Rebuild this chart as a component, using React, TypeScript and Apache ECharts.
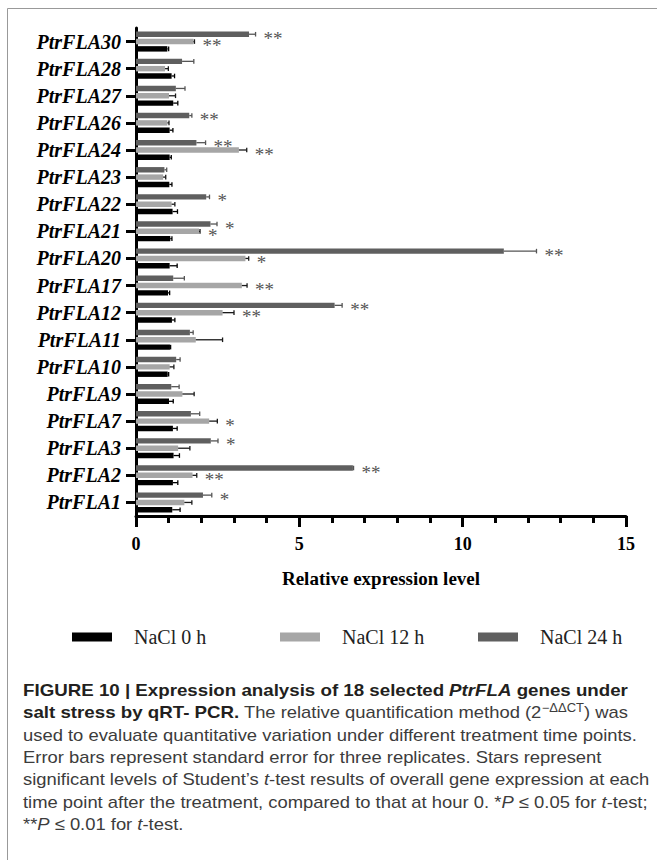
import React, { useEffect, useRef } from 'react';
import * as echarts from 'echarts';

// Categories, bottom to top
const categories = [
  'PtrFLA1', 'PtrFLA2', 'PtrFLA3', 'PtrFLA7', 'PtrFLA9', 'PtrFLA10', 'PtrFLA11', 'PtrFLA12', 'PtrFLA17',
  'PtrFLA20', 'PtrFLA21', 'PtrFLA22', 'PtrFLA23', 'PtrFLA24', 'PtrFLA26', 'PtrFLA27', 'PtrFLA28', 'PtrFLA30',
];

const val0h = [1.11, 1.13, 1.15, 1.13, 1.01, 0.97, 1.04, 1.10, 0.98, 1.03, 1.05, 1.12, 1.02, 1.03, 1.03, 1.14, 1.09, 0.96];
const err0h = [0.24, 0.15, 0.18, 0.13, 0.13, 0.03, 0.02, 0.09, 0.05, 0.23, 0.05, 0.15, 0.08, 0.05, 0.10, 0.14, 0.09, 0.04];

const val12h = [1.48, 1.73, 1.29, 2.24, 1.42, 1.03, 1.83, 2.65, 3.24, 3.35, 1.93, 1.09, 0.83, 3.15, 0.96, 1.01, 0.89, 1.76];
const err12h = [0.23, 0.13, 0.36, 0.25, 0.36, 0.13, 0.82, 0.35, 0.16, 0.10, 0.03, 0.10, 0.08, 0.24, 0.05, 0.20, 0.10, 0.03];
const stars12h = ['', '**', '', '*', '', '', '', '**', '**', '*', '*', '', '', '**', '', '', '', '**'];

const val24h = [2.05, 6.64, 2.29, 1.68, 1.08, 1.23, 1.65, 6.08, 1.14, 11.26, 2.28, 2.15, 0.87, 1.85, 1.63, 1.22, 1.41, 3.46];
const err24h = [0.27, 0.02, 0.22, 0.27, 0.24, 0.12, 0.10, 0.23, 0.34, 1.00, 0.20, 0.10, 0.07, 0.28, 0.08, 0.28, 0.36, 0.20];
const stars24h = ['*', '**', '*', '', '', '', '', '**', '', '**', '*', '*', '', '**', '**', '', '', '**'];

const stars0h = categories.map(() => '');

const seriesNames = ['NaCl 0 h', 'NaCl 12 h', 'NaCl 24 h'];
const xMin = 0;
const xMax = 15;
const xInterval = 5;
const axisTitle = 'Relative expression level';

const captionLines = [
  '{b|FIGURE 10 | Expression analysis of 18 selected }{bi|PtrFLA}{b| genes under}',
  '{b|salt stress by qRT- PCR.}{r| The relative quantification method (2}{sup|\u2212\u0394\u0394CT}{r|) was}',
  '{r|used to evaluate quantitative variation under different treatment time points.}',
  '{r|Error bars represent standard error for three replicates. Stars represent}',
  '{r|significant levels of Student\u2019s }{i|t}{r|-test results of overall gene expression at each}',
  '{r|time point after the treatment, compared to that at hour 0. *}{i|P}{r| \u2264 0.05 for }{i|t}{r|-test;}',
  '{r|**}{i|P}{r| \u2264 0.01 for }{i|t}{r|-test.}',
];
const captionRef = 'used to evaluate quantitative variation under different treatment time points.';

const SERIF = '"Liberation Serif", "Times New Roman", serif';
const SANS = '"Liberation Sans", Arial, sans-serif';

export default function App() {
  const ref = useRef<HTMLDivElement>(null);

  useEffect(() => {
    document.body.style.margin = '0';
    const chart = echarts.init(ref.current!, null, { renderer: 'svg' });

    const defs = [
      { name: seriesNames[2], vals: val24h, errs: err24h, stars: stars24h, color: '#5f5f5f', errColor: '#555555', slot: -1 },
      { name: seriesNames[1], vals: val12h, errs: err12h, stars: stars12h, color: '#a6a6a6', errColor: '#1a1a1a', slot: 0 },
      { name: seriesNames[0], vals: val0h, errs: err0h, stars: stars0h, color: '#000000', errColor: '#000000', slot: 1 },
    ];

    const barSeries = defs.map((d) => ({
      type: 'bar',
      name: d.name,
      data: d.vals,
      barWidth: '20%',
      barGap: '35%',
      itemStyle: { color: d.color },
      z: 2,
    }));

    const errSeries = defs.map((d) => ({
      type: 'custom',
      name: d.name + ' err',
      data: categories.map((c, i) => [i, d.vals[i], d.errs[i]]),
      encode: { x: 1, y: 0 },
      z: 3,
      silent: true,
      renderItem: (params: any, api: any) => {
        const i = api.value(0);
        const v = api.value(1);
        const e = api.value(2);
        const band = api.size([0, 1])[1];
        const p0 = api.coord([v, i]);
        const p1 = api.coord([v + e, i]);
        const yc = p0[1] + d.slot * 0.27 * band;
        const children: any[] = [
          { type: 'line', shape: { x1: p0[0], y1: yc, x2: p1[0], y2: yc }, style: { stroke: d.errColor, lineWidth: 1.3 } },
          { type: 'line', shape: { x1: p1[0], y1: yc - 2.3, x2: p1[0], y2: yc + 2.3 }, style: { stroke: d.errColor, lineWidth: 1.3 } },
        ];
        const s = d.stars[params.dataIndex];
        if (s) {
          children.push({
            type: 'text',
            x: p1[0] + 8,
            y: yc + 4,
            style: { text: s, fill: '#555555', fontSize: 19, fontFamily: SERIF, align: 'left', verticalAlign: 'middle' },
          });
        }
        return { type: 'group', children };
      },
    }));

    // caption scale (condensed look)
    const capSize = 17;
    const boldSize = 17.3;
    let sx = 0.88;
    try {
      const ctx = document.createElement('canvas').getContext('2d')!;
      ctx.font = `${capSize}px "Liberation Sans"`;
      const w = ctx.measureText(captionRef).width;
      if (w > 0) sx = 614 / w;
    } catch (e) {}

    const rich = {
      b: { fontWeight: 'bold', fontSize: boldSize, fontFamily: SANS, fill: '#231f20', lineHeight: 20 },
      bi: { fontWeight: 'bold', fontStyle: 'italic', fontSize: boldSize, fontFamily: SANS, fill: '#231f20', lineHeight: 20 },
      r: { fontSize: capSize, fontFamily: SANS, fill: '#3c3c3c', lineHeight: 20 },
      i: { fontStyle: 'italic', fontSize: capSize, fontFamily: SANS, fill: '#3c3c3c', lineHeight: 20 },
      sup: { fontSize: 12, fontFamily: SANS, fill: '#3c3c3c', lineHeight: 20, verticalAlign: 'top' },
    };

    const captionEls = captionLines.map((t, k) => ({
      type: 'text',
      x: 23,
      y: 690 + k * 22.4,
      scaleX: sx,
      silent: true,
      style: { text: t, rich, x: 0, y: 0, align: 'left', verticalAlign: 'middle', fontSize: capSize, fontFamily: SANS, fill: '#3c3c3c' },
    }));

    const legendLefts = [72, 280, 478];
    const legendColors = ['#000000', '#a6a6a6', '#5f5f5f'];
    const legends = seriesNames.map((n, k) => ({
      show: true,
      data: [{ name: n, itemStyle: { color: legendColors[k] } }],
      left: legendLefts[k],
      top: 627,
      padding: 0,
      icon: 'rect',
      itemWidth: 40,
      itemHeight: 9,
      selectedMode: false,
      textStyle: { fontFamily: SERIF, fontSize: 20, color: '#222222', padding: [0, 0, 0, 17] },
    }));

    const option: any = {
      animation: false,
      backgroundColor: '#ffffff',
      grid: { left: 136, right: 31, top: 28, bottom: 344, containLabel: false },
      legend: legends,
      xAxis: {
        type: 'value',
        min: xMin,
        max: xMax,
        interval: xInterval,
        name: axisTitle,
        nameLocation: 'middle',
        nameGap: 53,
        nameTextStyle: { fontFamily: SERIF, fontWeight: 'bold', fontSize: 19, color: '#000' },
        axisLine: { show: true, lineStyle: { color: '#000', width: 3 } },
        axisTick: { show: true, length: 11, lineStyle: { color: '#000', width: 3 } },
        minorTick: { show: true, splitNumber: 5, length: 7, lineStyle: { color: '#000', width: 3 } },
        splitLine: { show: false },
        minorSplitLine: { show: false },
        axisLabel: { fontFamily: SERIF, fontWeight: 'bold', fontSize: 18, color: '#000', margin: 19 },
      },
      yAxis: {
        type: 'category',
        data: categories,
        axisLine: { show: true, lineStyle: { color: '#000', width: 3 } },
        axisTick: { show: true, alignWithLabel: true, length: 10, lineStyle: { color: '#000', width: 3 } },
        axisLabel: { interval: 0, fontFamily: SERIF, fontWeight: 'bold', fontStyle: 'italic', fontSize: 20, color: '#000', margin: 15 },
        splitLine: { show: false },
      },
      graphic: [
        { type: 'line', silent: true, shape: { x1: 7.5, y1: 8.5, x2: 657, y2: 8.5 }, style: { stroke: '#999', lineWidth: 1 } },
        { type: 'line', silent: true, shape: { x1: 7.5, y1: 8.5, x2: 7.5, y2: 860 }, style: { stroke: '#999', lineWidth: 1 } },
        ...captionEls,
      ],
      series: [...barSeries, ...errSeries],
    };

    chart.setOption(option);
    return () => chart.dispose();
  }, []);

  return <div ref={ref} style={{ width: 657, height: 860, background: '#fff' }} />;
}
